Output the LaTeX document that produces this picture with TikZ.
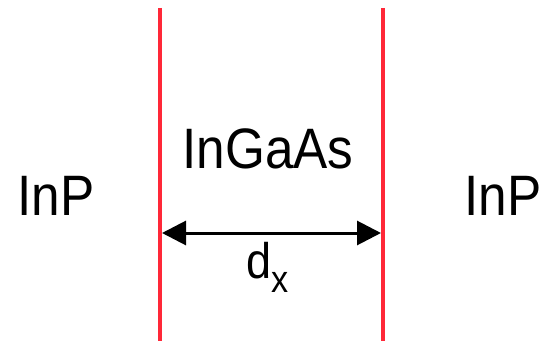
\documentclass[tikz,border=0pt]{standalone}
\usepackage{fontspec}
\setmainfont[FakeStretch=0.9]{Liberation Sans}
\usetikzlibrary{arrows.meta}
\definecolor{wallred}{RGB}{255,40,56}
\begin{document}
\begin{tikzpicture}[x=1pt,y=1pt,
				every node/.style={inner sep=0pt,anchor=base},
				wall/.style={wallred,line width=4pt},
				big/.style={font=\fontsize{57}{57}\selectfont},
				gap/.style={line width=3pt,{Triangle[length=24pt,width=24pt]}-{Triangle[length=24pt,width=24pt]}}]
\useasboundingbox (0,0) rectangle (542,341);
\draw[wall] (160,333) -- (160,0);
\draw[wall] (383,333) -- (383,0);
\node[big] (inpleft) at (56,126) {InP};
\node[big] (ingaas) at (268,173) {InGaAs};
\node[big] (inpright) at (503,126) {InP};
\coordinate (gapleft) at (162,108);
\coordinate (gapright) at (381,108);
\draw[gap] (gapleft) -- (gapright);
\node[font=\fontsize{50}{50}\selectfont] (dx) at (268,63) {d\raisebox{-14pt}{\fontsize{38}{38}\selectfont x}};
\end{tikzpicture}
\end{document}
